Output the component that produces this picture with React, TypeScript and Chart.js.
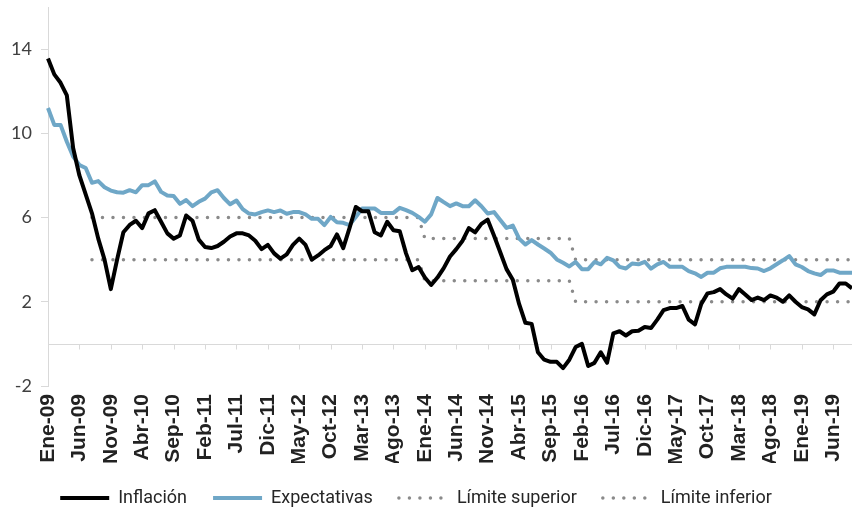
import React, { useEffect, useRef } from 'react';
import { Chart, registerables } from 'chart.js';

Chart.register(...registerables);

// ---- Data ----
const MONTHS = ['Ene', 'Feb', 'Mar', 'Abr', 'May', 'Jun', 'Jul', 'Ago', 'Sep', 'Oct', 'Nov', 'Dic'];
const YEARS = ['09', '10', '11', '12', '13', '14', '15', '16', '17', '18', '19'];
const N_POINTS = 129; // Ene-09 .. Sep-19
const LABELS: string[] = [];
for (const y of YEARS) for (const m of MONTHS) if (LABELS.length < N_POINTS) LABELS.push(`${m}-${y}`);

const LABEL_EVERY = 5;
const Y_TICKS = [-2, 2, 6, 10, 14];
const Y_MIN = -2;
const Y_MAX = 16;

const INFLACION = [
  13.55, 12.8, 12.4, 11.8, 9.3, 8.0, 7.1, 6.2, 5.0, 4.0, 2.6, 4.0,
  5.3, 5.65, 5.85, 5.5, 6.2, 6.35, 5.8, 5.25, 5.0, 5.15, 6.1, 5.85,
  4.95, 4.6, 4.55, 4.65, 4.85, 5.1, 5.25, 5.25, 5.15, 4.9, 4.5, 4.7,
  4.3, 4.05, 4.25, 4.7, 5.0, 4.7, 4.0, 4.2, 4.45, 4.65, 5.2, 4.55,
  5.5, 6.5, 6.3, 6.3, 5.3, 5.15, 5.8, 5.4, 5.35, 4.3, 3.5, 3.65,
  3.15, 2.8, 3.15, 3.6, 4.15, 4.5, 4.9, 5.5, 5.3, 5.7, 5.9, 5.15,
  4.35, 3.55, 3.05, 1.9, 1.0, 0.95, -0.4, -0.75, -0.85, -0.85, -1.15, -0.75,
  -0.15, 0.0, -1.05, -0.9, -0.4, -0.9, 0.5, 0.6, 0.4, 0.6, 0.62, 0.8,
  0.75, 1.15, 1.6, 1.7, 1.7, 1.8, 1.15, 0.93, 1.9, 2.4, 2.46, 2.6,
  2.35, 2.15, 2.6, 2.35, 2.08, 2.2, 2.08, 2.3, 2.2, 2.0, 2.3, 2.0,
  1.75, 1.64, 1.4, 2.07, 2.35, 2.48, 2.87, 2.87, 2.64,
];

const EXPECTATIVAS = [
  11.2, 10.4, 10.4, 9.6, 8.9, 8.5, 8.35, 7.65, 7.73, 7.44, 7.28, 7.2,
  7.18, 7.3, 7.2, 7.54, 7.54, 7.72, 7.22, 7.05, 7.02, 6.65, 6.83, 6.54,
  6.75, 6.9, 7.2, 7.3, 6.93, 6.63, 6.81, 6.4, 6.19, 6.15, 6.26, 6.34,
  6.26, 6.34, 6.18, 6.26, 6.26, 6.15, 5.94, 5.94, 5.64, 6.03, 5.78, 5.75,
  5.64, 6.03, 6.43, 6.43, 6.43, 6.22, 6.22, 6.22, 6.46, 6.35, 6.22, 6.03,
  5.8, 6.15, 6.93, 6.73, 6.54, 6.67, 6.54, 6.54, 6.82, 6.54, 6.19, 6.26,
  5.88, 5.51, 5.62, 5.0, 4.72, 4.93, 4.72, 4.53, 4.33, 4.01, 3.85, 3.68,
  3.89, 3.55, 3.55, 3.89, 3.78, 4.09, 3.97, 3.66, 3.58, 3.82, 3.78, 3.9,
  3.57, 3.78, 3.89, 3.66, 3.66, 3.66, 3.46, 3.35, 3.18, 3.38, 3.38, 3.59,
  3.66, 3.66, 3.66, 3.66, 3.6, 3.58, 3.46, 3.59, 3.78, 3.97, 4.17, 3.78,
  3.65, 3.46, 3.35, 3.27, 3.49, 3.49, 3.38, 3.38, 3.38,
];

const LIMITE_SUPERIOR = [
  null, null, null, null, null, null, null, 6, 6, 6, 6, 6,
  6, 6, 6, 6, 6, 6, 6, 6, 6, 6, 6, 6,
  6, 6, 6, 6, 6, 6, 6, 6, 6, 6, 6, 6,
  6, 6, 6, 6, 6, 6, 6, 6, 6, 6, 6, 6,
  6, 6, 6, 6, 6, 6, 6, 6, 6, 6, 6, 6,
  5, 5, 5, 5, 5, 5, 5, 5, 5, 5, 5, 5,
  5, 5, 5, 5, 5, 5, 5, 5, 5, 5, 5, 5,
  4, 4, 4, 4, 4, 4, 4, 4, 4, 4, 4, 4,
  4, 4, 4, 4, 4, 4, 4, 4, 4, 4, 4, 4,
  4, 4, 4, 4, 4, 4, 4, 4, 4, 4, 4, 4,
  4, 4, 4, 4, 4, 4, 4, 4, 4,
];

const LIMITE_INFERIOR = [
  null, null, null, null, null, null, null, 4, 4, 4, 4, 4,
  4, 4, 4, 4, 4, 4, 4, 4, 4, 4, 4, 4,
  4, 4, 4, 4, 4, 4, 4, 4, 4, 4, 4, 4,
  4, 4, 4, 4, 4, 4, 4, 4, 4, 4, 4, 4,
  4, 4, 4, 4, 4, 4, 4, 4, 4, 4, 4, 4,
  3, 3, 3, 3, 3, 3, 3, 3, 3, 3, 3, 3,
  3, 3, 3, 3, 3, 3, 3, 3, 3, 3, 3, 3,
  2, 2, 2, 2, 2, 2, 2, 2, 2, 2, 2, 2,
  2, 2, 2, 2, 2, 2, 2, 2, 2, 2, 2, 2,
  2, 2, 2, 2, 2, 2, 2, 2, 2, 2, 2, 2,
  2, 2, 2, 2, 2, 2, 2, 2, 2,
];

// ---- Plugins ----
const zeroAxisPlugin = {
  id: 'zeroAxis',
  beforeDatasetsDraw(chart: any) {
    const { ctx, chartArea, scales } = chart;
    const y = Math.round(scales.y.getPixelForValue(0)) + 0.5;
    ctx.save();
    ctx.strokeStyle = '#d9d9d9';
    ctx.lineWidth = 1;
    ctx.beginPath();
    ctx.moveTo(chartArea.left, y);
    ctx.lineTo(chartArea.right, y);
    for (let i = 0; i < LABELS.length; i += LABEL_EVERY) {
      const x = Math.round(scales.x.getPixelForValue(i)) + 0.5;
      ctx.moveTo(x, y);
      ctx.lineTo(x, y + 5);
    }
    ctx.stroke();
    ctx.restore();
  },
};

const legendShiftPlugin = {
  id: 'legendShift',
  afterLayout(chart: any) {
    if (chart.legend) {
      chart.legend.left -= 10;
      chart.legend.right -= 10;
    }
  },
};

export default function App() {
  const canvasRef = useRef<HTMLCanvasElement | null>(null);

  useEffect(() => {
    if (!canvasRef.current) return;
    const dotted = {
      borderColor: '#8a8a8a',
      backgroundColor: '#8a8a8a',
      borderWidth: 3.5,
      borderDash: [0, 10.5],
      borderCapStyle: 'round' as const,
    };
    const chart = new Chart(canvasRef.current, {
      type: 'line',
      data: {
        labels: LABELS,
        datasets: [
          {
            label: 'Inflación',
            data: INFLACION,
            borderColor: '#000000',
            backgroundColor: '#000000',
            borderWidth: 4,
            borderJoinStyle: 'round',
          },
          {
            label: 'Expectativas',
            data: EXPECTATIVAS,
            borderColor: '#6fa7c7',
            backgroundColor: '#6fa7c7',
            borderWidth: 4,
            borderJoinStyle: 'round',
          },
          { label: 'Límite superior', data: LIMITE_SUPERIOR, ...dotted },
          { label: 'Límite inferior', data: LIMITE_INFERIOR, ...dotted },
        ],
      },
      options: {
        responsive: false,
        animation: false,
        events: [],
        layout: { padding: { top: 7, left: 0, right: 0, bottom: -5 } },
        elements: { point: { radius: 0 }, line: { tension: 0 } },
        scales: {
          x: {
            type: 'category',
            offset: false,
            grid: { display: false, drawTicks: false },
            border: { display: false },
            ticks: {
              autoSkip: false,
              maxRotation: 90,
              minRotation: 90,
              padding: 8,
              color: '#222222',
              font: { family: "'Liberation Sans', Arial, sans-serif", size: 21, weight: 'bold' },
              callback: (_v: any, i: number) => (i % LABEL_EVERY === 0 ? LABELS[i] : ''),
            },
            afterFit: (s: any) => {
              s.height = 77;
              s.paddingLeft = 0;
              s.paddingRight = 0;
            },
          },
          y: {
            min: Y_MIN,
            max: Y_MAX,
            afterBuildTicks: (s: any) => {
              s.ticks = Y_TICKS.map((v) => ({ value: v }));
            },
            grid: { drawOnChartArea: false, drawTicks: true, tickLength: 7, color: '#d9d9d9' },
            border: { display: true, color: '#d9d9d9' },
            ticks: {
              padding: 9,
              color: '#404040',
              font: { family: 'Lato, sans-serif', size: 18 },
            },
            afterFit: (s: any) => {
              s.width = 48;
              s.paddingTop = 0;
              s.paddingBottom = 0;
            },
          },
        },
        plugins: {
          tooltip: { enabled: false },
          legend: {
            position: 'bottom',
            labels: {
              usePointStyle: true,
              pointStyle: 'line',
              pointStyleWidth: 49,
              padding: 26,
              color: '#262626',
              font: { family: 'Roboto, sans-serif', size: 18 },
              generateLabels: (chart: any) =>
                chart.data.datasets.map((ds: any, i: number) => ({
                  text: ds.label,
                  fillStyle: ds.borderColor,
                  strokeStyle: ds.borderColor,
                  fontColor: '#262626',
                  lineWidth: ds.borderWidth,
                  lineDash: ds.borderDash || [],
                  lineCap: ds.borderCapStyle || 'butt',
                  pointStyle: 'line',
                  hidden: false,
                  datasetIndex: i,
                })),
            },
          },
        },
      },
      plugins: [zeroAxisPlugin, legendShiftPlugin],
    } as any);
    return () => chart.destroy();
  }, []);

  return (
    <div style={{ position: 'fixed', left: 0, top: 0, width: 852, height: 512, background: '#fff' }}>
      <canvas ref={canvasRef} width={852} height={512} style={{ display: 'block' }} />
    </div>
  );
}
